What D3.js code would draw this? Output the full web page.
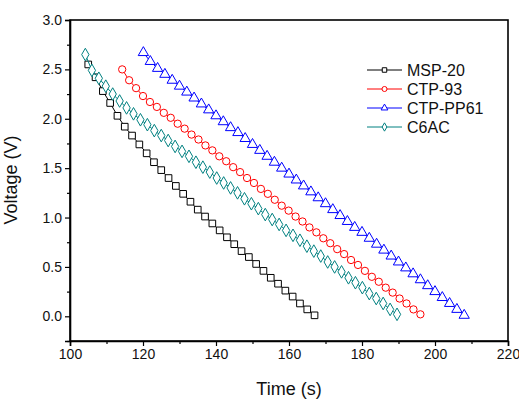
<!DOCTYPE html>
<html>
<head>
<meta charset="utf-8">
<script src="https://cdn.jsdelivr.net/npm/d3@7"></script>
<style>
  body { margin: 0; background: #fff; }
  svg { display: block; font-family: "Liberation Sans", Arial, sans-serif; }
</style>
</head>
<body>
<svg id="chart" width="519" height="403"></svg>
<script>
// time (s) and voltage (V)
const mspTime = [105, 107, 109, 111, 113, 115, 117, 119, 121, 123, 125, 127, 129, 131, 133, 135, 137, 139, 141, 143, 145, 147, 149, 151, 153, 155, 157, 159, 161, 163, 165, 167];
const mspVolt = [2.55, 2.42, 2.28, 2.16, 2.03, 1.92, 1.83, 1.74, 1.65, 1.56, 1.48, 1.40, 1.32, 1.24, 1.16, 1.08, 1.01, 0.94, 0.87, 0.80, 0.73, 0.66, 0.60, 0.53, 0.46, 0.39, 0.33, 0.26, 0.20, 0.13, 0.07, 0.01];

const ctpTime = [114.3, 116.2, 118.1, 120.0, 121.9, 123.8, 125.7, 127.6, 129.5, 131.4, 133.3, 135.2, 137.1, 139.0, 140.9, 142.8, 144.7, 146.6, 148.5, 150.4, 152.3, 154.2, 156.1, 158.0, 159.9, 161.8, 163.7, 165.6, 167.5, 169.4, 171.3, 173.2, 175.1, 177.0, 178.9, 180.8, 182.7, 184.6, 186.5, 188.4, 190.3, 192.2, 194.1, 196.0];
const ctpVolt = [2.50, 2.39, 2.31, 2.23, 2.17, 2.12, 2.06, 2.01, 1.95, 1.90, 1.84, 1.79, 1.73, 1.68, 1.62, 1.57, 1.51, 1.46, 1.40, 1.35, 1.29, 1.24, 1.18, 1.12, 1.07, 1.01, 0.96, 0.90, 0.85, 0.79, 0.74, 0.68, 0.63, 0.57, 0.52, 0.46, 0.40, 0.35, 0.29, 0.24, 0.18, 0.13, 0.07, 0.02];

const ppTime = [120.1, 122.0, 124, 126, 128, 130, 132, 134, 136, 138, 140, 142, 144, 146, 148, 150, 152, 154, 156, 158, 160, 162, 164, 166, 168, 170, 172, 174, 176, 178, 180, 182, 184, 186, 188, 190, 192, 194, 196, 198, 200, 202, 204, 206, 208];
const ppVolt = [2.67, 2.58, 2.51, 2.45, 2.39, 2.33, 2.27, 2.21, 2.15, 2.09, 2.03, 1.97, 1.91, 1.86, 1.80, 1.74, 1.68, 1.62, 1.56, 1.50, 1.44, 1.38, 1.32, 1.26, 1.20, 1.14, 1.08, 1.02, 0.96, 0.90, 0.85, 0.79, 0.73, 0.67, 0.61, 0.55, 0.49, 0.43, 0.37, 0.31, 0.25, 0.19, 0.13, 0.07, 0.01];

const c6Time = [104.2, 106.0, 107.9, 109.8, 111.7, 113.6, 115.5, 117.4, 119.3, 121.2, 123.1, 125.0, 126.9, 128.8, 130.7, 132.6, 134.5, 136.4, 138.3, 140.2, 142.1, 144.0, 145.9, 147.8, 149.7, 151.6, 153.5, 155.4, 157.3, 159.2, 161.1, 163.0, 164.9, 166.8, 168.7, 170.6, 172.5, 174.4, 176.3, 178.2, 180.1, 182.0, 183.9, 185.8, 187.7, 189.6];
const c6Volt = [2.65, 2.49, 2.41, 2.33, 2.25, 2.18, 2.11, 2.05, 1.99, 1.94, 1.88, 1.83, 1.78, 1.72, 1.67, 1.62, 1.56, 1.51, 1.46, 1.40, 1.35, 1.30, 1.25, 1.19, 1.14, 1.09, 1.03, 0.98, 0.93, 0.87, 0.82, 0.77, 0.71, 0.66, 0.61, 0.55, 0.50, 0.45, 0.39, 0.34, 0.29, 0.23, 0.18, 0.13, 0.07, 0.02];

const seriesNames = ["MSP-20", "CTP-93", "CTP-PP61", "C6AC"];
const xTicks = [100, 120, 140, 160, 180, 200, 220];
const yTicks = [0.0, 0.5, 1.0, 1.5, 2.0, 2.5, 3.0];

const series = [
    { name: seriesNames[0], t: mspTime, v: mspVolt, color: "#000000", symbol: d3.symbolSquare, size: 44 },
    { name: seriesNames[1], t: ctpTime, v: ctpVolt, color: "#ff0000", symbol: d3.symbolCircle, size: 42 },
    { name: seriesNames[2], t: ppTime, v: ppVolt, color: "#0000ff", symbol: d3.symbolTriangle, size: 46 },
    { name: seriesNames[3], t: c6Time, v: c6Volt, color: "#008080", symbol: d3.symbolDiamond, size: 46 }
];

const margin = { top: 20, right: 11, bottom: 62, left: 70 };
const width = 519 - margin.left - margin.right;
const height = 403 - margin.top - margin.bottom;

const svg = d3.select("#chart");
const g = svg.append("g").attr("transform", `translate(${margin.left},${margin.top})`);

const x = d3.scaleLinear().domain([100, 220]).range([0, width]);
const y = d3.scaleLinear().domain([-0.25, 3.0]).range([height, 0]);

// frame
g.append("rect")
    .attr("width", width).attr("height", height)
    .attr("fill", "none").attr("stroke", "#000").attr("stroke-width", 1.6);

// x axis: major + minor ticks pointing out
g.append("g").attr("transform", `translate(0,${height})`)
    .call(d3.axisBottom(x).tickValues(xTicks).tickSize(5).tickPadding(3).tickFormat(d3.format("d")));
g.append("g").attr("transform", `translate(0,${height})`)
    .call(d3.axisBottom(x).tickValues(d3.range(110, 220, 20)).tickSize(3).tickFormat(""))
    .select(".domain").remove();

g.append("g")
    .call(d3.axisLeft(y).tickValues(yTicks).tickSize(5).tickPadding(3).tickFormat(d3.format(".1f")));
g.append("g")
    .call(d3.axisLeft(y).tickValues([-0.25, 0.25, 0.75, 1.25, 1.75, 2.25, 2.75]).tickSize(3).tickFormat(""))
    .select(".domain").remove();

g.selectAll(".domain").attr("stroke-width", 1.6);
g.selectAll(".tick line").attr("stroke-width", 1.2);
g.selectAll(".tick text").attr("font-size", 14).attr("font-family", "Liberation Sans, Arial, sans-serif").attr("fill", "#111");

// axis titles
svg.append("text")
    .attr("x", margin.left + x(160)).attr("y", 395)
    .attr("text-anchor", "middle").attr("font-size", 18).attr("fill", "#111")
    .text("Time (s)");
svg.append("text")
    .attr("transform", "translate(17,180) rotate(-90)")
    .attr("text-anchor", "middle").attr("font-size", 18).attr("fill", "#111")
    .text("Voltage (V)");

// series: line then hollow markers
const line = d3.line().x(d => x(d[0])).y(d => y(d[1]));
series.forEach(s => {
    const pts = s.t.map((t, i) => [t, s.v[i]]);
    g.append("path")
        .datum(pts)
        .attr("d", line)
        .attr("fill", "none").attr("stroke", s.color).attr("stroke-width", 1);
    g.append("g").selectAll("path")
        .data(pts)
        .enter()
        .append("path")
        .attr("transform", d => `translate(${x(d[0])},${y(d[1])})`)
        .attr("d", d3.symbol().type(s.symbol).size(s.size))
        .attr("fill", "#fff").attr("stroke", s.color).attr("stroke-width", 1);
});

// legend
const legend = g.append("g").attr("transform", "translate(297,50)");
series.forEach((s, i) => {
    const row = legend.append("g").attr("transform", `translate(0,${i * 19})`);
    row.append("line").attr("x1", 0).attr("x2", 35).attr("y1", 0).attr("y2", 0)
        .attr("stroke", s.color).attr("stroke-width", 1);
    row.append("path").attr("transform", "translate(17.5,0)")
        .attr("d", d3.symbol().type(s.symbol).size(20))
        .attr("fill", "#fff").attr("stroke", s.color).attr("stroke-width", 1);
    row.append("text").attr("x", 40).attr("y", 0).attr("dy", "0.35em")
        .attr("font-size", 16).attr("fill", "#111").text(s.name);
});
</script>
</body>
</html>
